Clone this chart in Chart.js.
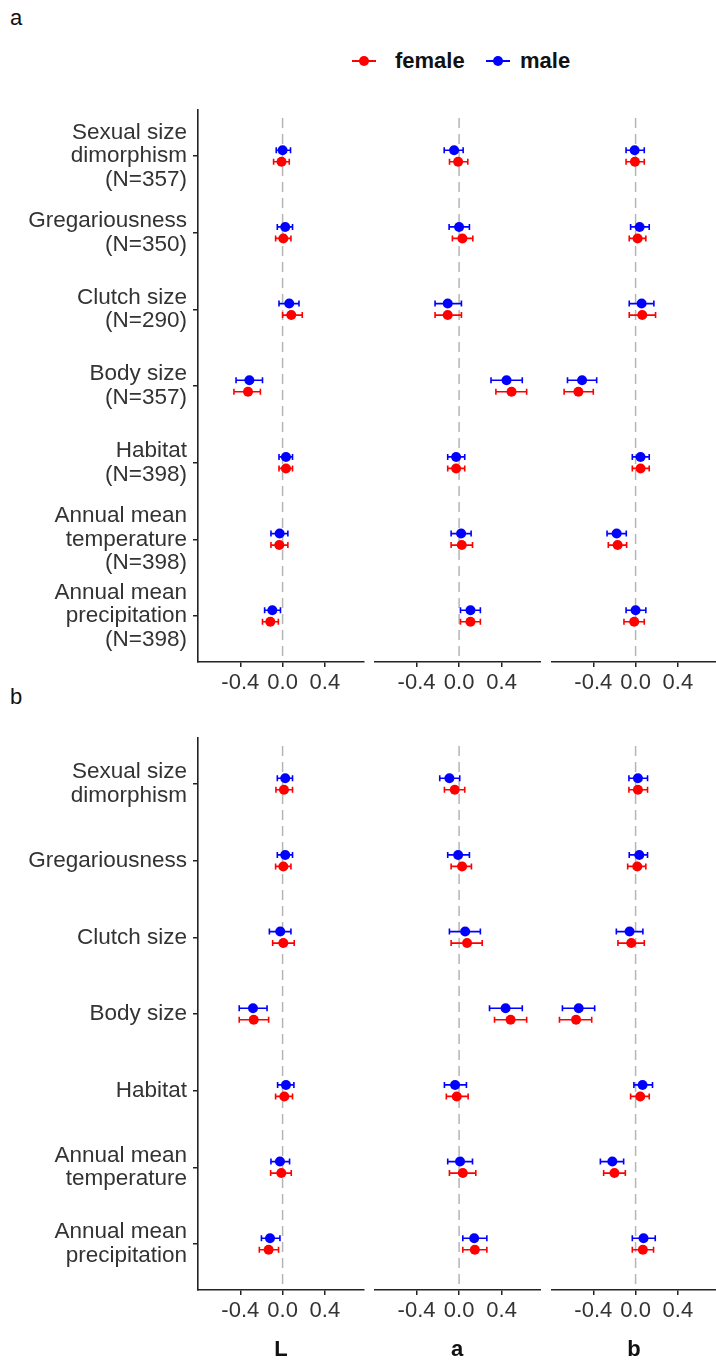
<!DOCTYPE html>
<html>
<head>
<meta charset="utf-8">
<script src="https://cdn.jsdelivr.net/npm/chart.js@4.4.1/dist/chart.umd.min.js"></script>
<style>
  body { margin: 0; background: #fff; width: 716px; height: 1361px; overflow: hidden; position: relative;
         font-family: "Liberation Sans", Arial, Helvetica, sans-serif; color: #111; }
  canvas, .txt, .key { position: absolute; }
  .txt { line-height: 26px; white-space: nowrap; }
</style>
</head>
<body>
<div class="txt" style="left:10px;top:5px;font-size:22px">a</div>
<div class="txt" style="left:10px;top:684px;font-size:22px">b</div>

<!-- legend -->
<div class="key" style="left:352px;top:60px;width:24px;height:2px;background:#ff0000"></div>
<div class="key" style="left:359px;top:56px;width:10px;height:10px;border-radius:50%;background:#ff0000"></div>
<div class="txt" style="left:395px;top:48px;font-size:22px;font-weight:bold">female</div>
<div class="key" style="left:486px;top:60px;width:24px;height:2px;background:#0000ff"></div>
<div class="key" style="left:493px;top:56px;width:10px;height:10px;border-radius:50%;background:#0000ff"></div>
<div class="txt" style="left:520px;top:48px;font-size:22px;font-weight:bold">male</div>

<canvas id="aL" width="370" height="612" style="left:0;top:100px"></canvas>
<canvas id="aA" width="167" height="612" style="left:374px;top:100px"></canvas>
<canvas id="aB" width="166" height="612" style="left:551px;top:100px"></canvas>
<canvas id="bL" width="370" height="612" style="left:0;top:728px"></canvas>
<canvas id="bA" width="167" height="612" style="left:374px;top:728px"></canvas>
<canvas id="bB" width="166" height="612" style="left:551px;top:728px"></canvas>

<div class="txt" style="left:231px;top:1336px;width:100px;text-align:center;font-size:22px;font-weight:bold">L</div>
<div class="txt" style="left:407px;top:1336px;width:100px;text-align:center;font-size:22px;font-weight:bold">a</div>
<div class="txt" style="left:584px;top:1336px;width:100px;text-align:center;font-size:22px;font-weight:bold">b</div>

<script>
// category labels (top to bottom)
const catsA = [["Sexual size", "dimorphism", "(N=357)"], ["Gregariousness", "(N=350)"], ["Clutch size", "(N=290)"],
               ["Body size", "(N=357)"], ["Habitat", "(N=398)"], ["Annual mean", "temperature", "(N=398)"],
               ["Annual mean", "precipitation", "(N=398)"]];
const catsB = [["Sexual size", "dimorphism"], ["Gregariousness"], ["Clutch size"], ["Body size"], ["Habitat"],
               ["Annual mean", "temperature"], ["Annual mean", "precipitation"]];
const xTicks = [-0.4, 0.0, 0.4];

// [estimate, lower, upper] per category
const aL_male   = [[0.00,-0.06,0.075],[0.025,-0.05,0.094],[0.063,-0.034,0.155],[-0.314,-0.44,-0.19],[0.032,-0.034,0.094],[-0.028,-0.11,0.05],[-0.097,-0.17,-0.02]];
const aL_female = [[-0.01,-0.085,0.063],[0.007,-0.066,0.079],[0.082,0.0,0.186],[-0.327,-0.46,-0.21],[0.032,-0.034,0.094],[-0.031,-0.11,0.05],[-0.116,-0.19,-0.04]];
const aA_male   = [[-0.047,-0.14,0.038],[0.0,-0.094,0.097],[-0.107,-0.226,0.022],[0.446,0.30,0.594],[-0.028,-0.107,0.053],[0.019,-0.075,0.113],[0.107,0.013,0.2]];
const aA_female = [[-0.009,-0.09,0.082],[0.031,-0.063,0.129],[-0.107,-0.226,0.022],[0.493,0.346,0.635],[-0.028,-0.107,0.053],[0.025,-0.075,0.126],[0.107,0.013,0.2]];
const aB_male   = [[-0.009,-0.09,0.082],[0.038,-0.047,0.129],[0.057,-0.06,0.173],[-0.506,-0.644,-0.368],[0.047,-0.031,0.129],[-0.179,-0.27,-0.088],[0.0,-0.09,0.097]];
const aB_female = [[-0.006,-0.09,0.082],[0.019,-0.06,0.097],[0.063,-0.06,0.189],[-0.541,-0.676,-0.40],[0.047,-0.031,0.129],[-0.17,-0.258,-0.085],[-0.013,-0.11,0.082]];
const bL_male   = [[0.025,-0.05,0.094],[0.025,-0.05,0.094],[-0.022,-0.125,0.079],[-0.28,-0.41,-0.147],[0.032,-0.047,0.107],[-0.025,-0.11,0.066],[-0.119,-0.2,-0.025]];
const bL_female = [[0.013,-0.063,0.094],[0.007,-0.066,0.079],[0.007,-0.094,0.11],[-0.273,-0.41,-0.132],[0.016,-0.066,0.094],[-0.012,-0.113,0.082],[-0.132,-0.22,-0.038]];
const bA_male   = [[-0.091,-0.182,0.006],[-0.009,-0.107,0.097],[0.057,-0.091,0.2],[0.437,0.286,0.594],[-0.038,-0.138,0.069],[0.009,-0.107,0.126],[0.142,0.035,0.261]];
const bA_female = [[-0.041,-0.138,0.053],[0.028,-0.075,0.116],[0.075,-0.075,0.217],[0.484,0.333,0.635],[-0.022,-0.12,0.085],[0.035,-0.091,0.157],[0.148,0.035,0.261]];
const bB_male   = [[0.022,-0.063,0.113],[0.035,-0.06,0.113],[-0.057,-0.182,0.069],[-0.538,-0.692,-0.387],[0.066,-0.016,0.16],[-0.22,-0.333,-0.113],[0.075,-0.031,0.186]];
const bB_female = [[0.022,-0.063,0.113],[0.016,-0.075,0.097],[-0.041,-0.167,0.082],[-0.563,-0.72,-0.415],[0.044,-0.047,0.129],[-0.2,-0.302,-0.097],[0.069,-0.031,0.17]];

const RED = '#ff0000', BLUE = '#0000ff', AXIS = '#222222';
const FONT = '"Liberation Sans", Arial, Helvetica, sans-serif';
const DODGE = 0.075;

// dashed vertical line at zero
const zeroLine = {
    id: 'zeroLine',
    beforeDatasetsDraw(chart) {
        const ctx = chart.ctx, a = chart.chartArea;
        const x = chart.scales.x.getPixelForValue(0);
        ctx.save();
        ctx.strokeStyle = '#b5b5b5';
        ctx.lineWidth = 1.5;
        ctx.setLineDash([10, 6]);
        ctx.beginPath();
        ctx.moveTo(x, a.top + 8);
        ctx.lineTo(x, a.bottom);
        ctx.stroke();
        ctx.restore();
    }
};

// horizontal error bars with caps
const errorBars = {
    id: 'errorBars',
    beforeDatasetsDraw(chart) {
        const ctx = chart.ctx, xs = chart.scales.x;
        chart.data.datasets.forEach((ds, di) => {
            const meta = chart.getDatasetMeta(di);
            ctx.save();
            ctx.strokeStyle = ds.backgroundColor;
            ctx.lineWidth = 1.6;
            ds.data.forEach((d, i) => {
                const y = meta.data[i].y;
                const x1 = xs.getPixelForValue(d.lo), x2 = xs.getPixelForValue(d.hi);
                ctx.beginPath();
                ctx.moveTo(x1, y); ctx.lineTo(x2, y);
                ctx.moveTo(x1, y - 3); ctx.lineTo(x1, y + 3);
                ctx.moveTo(x2, y - 3); ctx.lineTo(x2, y + 3);
                ctx.stroke();
            });
            ctx.restore();
        });
    }
};

function toPoints(rows, shift) {
    return rows.map((r, i) => ({ x: r[0], y: i + 1 + shift, lo: r[1], hi: r[2] }));
}

function makeFacet(id, cats, male, female, showY) {
    new Chart(document.getElementById(id), {
        type: 'scatter',
        data: {
            datasets: [
                { label: 'male', data: toPoints(male, -DODGE), backgroundColor: BLUE, borderColor: BLUE,
                  pointRadius: 5, borderWidth: 0 },
                { label: 'female', data: toPoints(female, DODGE), backgroundColor: RED, borderColor: RED,
                  pointRadius: 5, borderWidth: 0 }
            ]
        },
        options: {
            responsive: false,
            animation: false,
            layout: { autoPadding: false, padding: { top: 10, right: showY ? 6 : 0, left: 0, bottom: 0 } },
            plugins: { legend: { display: false }, tooltip: { enabled: false } },
            scales: {
                x: {
                    type: 'linear', min: -0.8, max: 0.77,
                    afterBuildTicks: s => { s.ticks = xTicks.map(v => ({ value: v })); },
                    afterFit: s => { s.height = 50; s.paddingLeft = 0; s.paddingRight = 0; },
                    ticks: { callback: v => v.toFixed(1), color: '#333', padding: 3, maxRotation: 0,
                             font: { family: FONT, size: 22 } },
                    grid: { display: true, drawOnChartArea: false, drawTicks: true, tickLength: 5,
                            color: AXIS, lineWidth: 1.5 },
                    border: { display: true, color: AXIS, width: 1.6 }
                },
                y: {
                    type: 'linear', reverse: true, min: 0.4, max: 7.6, display: showY,
                    afterBuildTicks: s => { s.ticks = cats.map((c, i) => ({ value: i + 1 })); },
                    afterFit: s => {
                        s.width = showY ? 198 : 0;
                        s.paddingTop = 0; s.paddingBottom = 0;
                    },
                    ticks: { callback: v => cats[Math.round(v) - 1], color: '#333', padding: 6,
                             font: { family: FONT, size: 22.5, lineHeight: 1.05 } },
                    grid: { display: true, drawOnChartArea: false, drawTicks: true, tickLength: 5,
                            color: AXIS, lineWidth: 1.5 },
                    border: { display: true, color: AXIS, width: 1.6 }
                }
            }
        },
        plugins: [zeroLine, errorBars]
    });
}

makeFacet('aL', catsA, aL_male, aL_female, true);
makeFacet('aA', catsA, aA_male, aA_female, false);
makeFacet('aB', catsA, aB_male, aB_female, false);
makeFacet('bL', catsB, bL_male, bL_female, true);
makeFacet('bA', catsB, bA_male, bA_female, false);
makeFacet('bB', catsB, bB_male, bB_female, false);
</script>
</body>
</html>
